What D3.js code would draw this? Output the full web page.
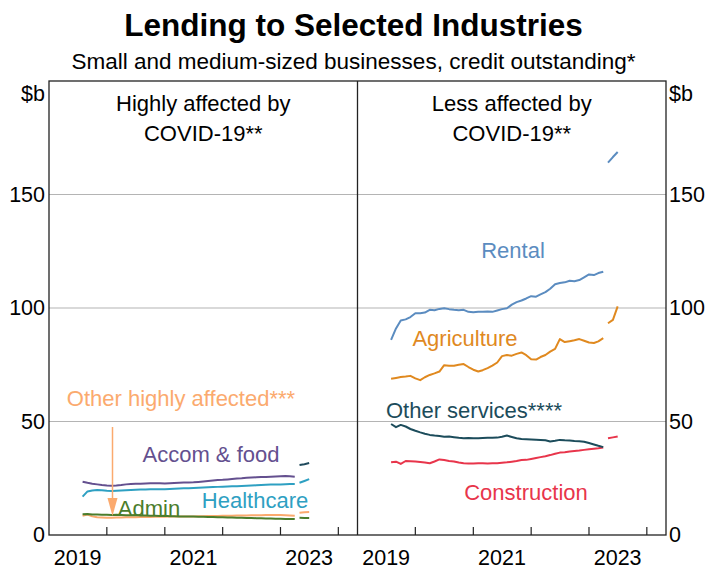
<!DOCTYPE html>
<html>
<head>
<meta charset="utf-8">
<script src="https://cdn.jsdelivr.net/npm/d3@7"></script>
<style>
  html, body { margin: 0; padding: 0; background: #fff; }
  svg text { font-family: "Liberation Sans", Arial, sans-serif; }
</style>
</head>
<body>
<svg id="chart" width="707" height="569"></svg>
<script>
// Monthly observations, Jul 2019 – Mar 2023, then a short series after the break (Apr – Jun 2023)
const months = d3.timeMonths(new Date(2019, 6, 1), new Date(2023, 3, 1));
const breakMonths = d3.timeMonths(new Date(2023, 3, 1), new Date(2023, 6, 1));

// Highly affected industries ($b)
const accomFood = [23.5,23.0,22.6,22.3,22.0,21.8,21.7,21.8,22.0,22.3,22.5,22.6,22.6,22.7,22.8,22.8,22.8,22.7,22.8,22.9,23.0,23.1,23.1,23.2,23.4,23.6,23.8,24.0,24.2,24.3,24.5,24.7,24.9,25.0,25.2,25.3,25.4,25.5,25.6,25.7,25.8,25.9,26.0,25.9,25.7];
const accomFoodBreak = [30.8,31.2,31.7];
const healthcare = [16.9,19.2,19.6,19.8,19.7,19.5,19.4,19.5,19.6,19.7,19.8,19.9,20.0,20.0,20.1,20.1,20.2,20.2,20.3,20.4,20.5,20.6,20.6,20.7,20.8,20.9,21.0,21.1,21.2,21.3,21.4,21.5,21.5,21.6,21.7,21.8,21.9,22.0,22.1,22.2,22.3,22.3,22.4,22.5,22.5];
const healthcareBreak = [23.0,23.8,24.6];
const admin = [9.1,9.2,9.0,9.0,8.9,8.9,8.8,8.9,8.8,8.7,8.7,8.8,8.6,8.6,8.5,8.5,8.4,8.5,8.3,8.3,8.2,8.2,8.1,8.1,8.0,8.0,7.9,7.9,7.8,7.8,7.7,7.7,7.6,7.6,7.5,7.5,7.4,7.4,7.3,7.3,7.2,7.2,7.1,7.1,7.0];
const adminBreak = [7.6,7.5,7.5];
const otherHigh = [8.5,9.0,8.2,7.8,7.7,7.6,7.6,7.7,7.7,7.8,7.8,7.8,7.9,7.9,7.9,8.0,8.0,8.0,8.1,8.1,8.1,8.2,8.2,8.2,8.3,8.3,8.4,8.4,8.4,8.5,8.5,8.5,8.6,8.6,8.6,8.7,8.7,8.7,8.8,8.8,8.8,8.8,8.7,8.6,8.5];
const otherHighBreak = [9.8,10.0,10.1];

// Less affected industries ($b)
const rental = [86.0,91.0,94.5,95.0,96.0,97.7,97.7,98.0,99.2,99.0,99.6,99.9,99.5,99.2,99.0,99.2,98.3,98.1,98.3,98.4,98.5,98.3,98.9,99.5,99.9,101.5,102.6,103.3,104.2,105.2,105.0,106.0,107.0,108.5,110.5,111.0,111.3,112.0,111.8,112.3,113.5,114.8,114.5,115.4,116.0];
const rentalBreak = [164.0,166.5,168.7];
const agriculture = [68.8,69.2,69.6,69.8,70.1,69.0,68.2,69.5,70.5,71.2,72.0,74.8,74.6,74.6,75.0,75.3,74.0,72.8,72.0,72.6,73.5,74.6,76.0,78.8,79.3,79.0,79.8,80.4,79.2,77.4,77.3,78.4,79.3,80.8,82.0,86.3,85.0,85.4,85.8,86.3,85.6,84.8,84.6,85.3,86.7];
const agricultureBreak = [93.3,94.8,100.7];
const otherServices = [48.9,47.5,48.5,47.8,46.7,45.9,45.2,44.6,44.1,43.8,43.6,43.3,43.4,43.1,42.8,42.6,42.7,42.6,42.6,42.7,42.8,42.8,42.9,43.3,43.8,43.2,42.6,42.3,42.2,42.1,42.0,41.9,41.7,41.2,41.5,41.9,41.7,41.6,41.4,41.3,41.1,40.5,39.9,39.3,38.7];
const construction = [32.0,32.3,31.3,32.6,32.5,32.4,32.2,31.9,31.6,32.4,33.3,33.0,32.6,32.4,31.9,31.6,31.5,31.5,31.6,31.6,31.5,31.6,31.6,31.8,32.0,32.3,32.6,33.0,33.1,33.5,33.9,34.3,34.7,35.2,35.8,36.3,36.5,36.8,37.0,37.2,37.5,37.8,38.0,38.2,38.5];
const constructionBreak = [42.6,43.0,43.4];

// Axis ticks and labels
const yTicks = [0, 50, 100, 150];
const yearTicks = [2020, 2021, 2022, 2023, 2024];
const yearLabels = [2019, 2021, 2023];

const svg = d3.select("#chart");
const plotTop = 81, plotBottom = 535, plotLeft = 49, plotRight = 666;
const mid = (plotLeft + plotRight) / 2;
const FONT = 22;
const AXIS_FONT = 21.5;

const y = d3.scaleLinear().domain([0, 200]).range([plotBottom, plotTop]);

// Observation dated at the end of its month
const endOfMonth = d => d3.timeMonth.offset(d, 1);

const panels = [
  {
    x0: plotLeft, x1: mid, title: ["Highly affected by", "COVID-19**"],
    series: [
      { values: otherHigh, brk: otherHighBreak, color: "#fbaa6e", brkColor: "#fbaa6e" },
      { values: admin, brk: adminBreak, color: "#4b7d2c", brkColor: "#4b7d2c" },
      { values: healthcare, brk: healthcareBreak, color: "#2ea0c2", brkColor: "#2ea0c2" },
      { values: accomFood, brk: accomFoodBreak, color: "#64508f", brkColor: "#1f4a5c" }
    ],
    labels: [
      { text: "Other highly affected***", x: 181, y: 406, color: "#fbaa6e" },
      { text: "Accom & food", x: 211, y: 462, color: "#64508f" },
      { text: "Healthcare", x: 255, y: 508, color: "#2ea0c2" },
      { text: "Admin", x: 149, y: 516, color: "#4b7d2c" }
    ]
  },
  {
    x0: mid, x1: plotRight, title: ["Less affected by", "COVID-19**"],
    series: [
      { values: construction, brk: constructionBreak, color: "#e8354b", brkColor: "#e8354b" },
      { values: otherServices, brk: null, color: "#1c4c5b" },
      { values: agriculture, brk: agricultureBreak, color: "#e0891f", brkColor: "#e0891f" },
      { values: rental, brk: rentalBreak, color: "#5b8cc0", brkColor: "#5b8cc0" }
    ],
    labels: [
      { text: "Rental", x: 513, y: 258, color: "#5b8cc0" },
      { text: "Agriculture", x: 465, y: 346, color: "#e0891f" },
      { text: "Other services****", x: 474, y: 418, color: "#1c4c5b" },
      { text: "Construction", x: 526, y: 500, color: "#e8354b" }
    ]
  }
];

// Gridlines across both panels
svg.append("g").selectAll("line").data(yTicks.filter(v => v > 0)).join("line")
  .attr("x1", plotLeft).attr("x2", plotRight)
  .attr("y1", d => y(d)).attr("y2", d => y(d))
  .attr("stroke", "#b4b4b4").attr("stroke-width", 1.2);

panels.forEach(p => {
  const x = d3.scaleTime()
    .domain([new Date(2019, 0, 1), new Date(2024, 4, 1)])
    .range([p.x0, p.x1]);

  // Year ticks on the bottom edge, pointing into the plot
  svg.append("g").selectAll("line").data(yearTicks).join("line")
    .attr("x1", d => x(new Date(d, 0, 1))).attr("x2", d => x(new Date(d, 0, 1)))
    .attr("y1", plotBottom).attr("y2", plotBottom - 8)
    .attr("stroke", "#222").attr("stroke-width", 1.2);

  // Year labels centred on each year
  svg.append("g").selectAll("text").data(yearLabels).join("text")
    .attr("x", d => x(new Date(d, 6, 1)))
    .attr("y", 565)
    .attr("text-anchor", "middle")
    .attr("font-size", AXIS_FONT).attr("fill", "#000")
    .text(d => d);

  const line = d3.line()
    .x(d => x(endOfMonth(d.date)))
    .y(d => y(d.value));

  p.series.forEach(s => {
    svg.append("path")
      .datum(months.map((m, i) => ({ date: m, value: s.values[i] })))
      .attr("d", line)
      .attr("fill", "none").attr("stroke", s.color)
      .attr("stroke-width", 2).attr("stroke-linejoin", "round");
    if (s.brk) {
      svg.append("path")
        .datum(breakMonths.map((m, i) => ({ date: m, value: s.brk[i] })))
        .attr("d", line)
        .attr("fill", "none").attr("stroke", s.brkColor)
        .attr("stroke-width", 2).attr("stroke-linejoin", "round");
    }
  });

  p.labels.forEach(l => {
    svg.append("text")
      .attr("x", l.x).attr("y", l.y)
      .attr("text-anchor", "middle")
      .attr("font-size", FONT).attr("fill", l.color)
      .text(l.text);
  });

  const cx = (p.x0 + p.x1) / 2;
  svg.append("text").attr("x", cx).attr("y", 111)
    .attr("text-anchor", "middle").attr("font-size", FONT).attr("fill", "#000")
    .text(p.title[0]);
  svg.append("text").attr("x", cx).attr("y", 141)
    .attr("text-anchor", "middle").attr("font-size", FONT).attr("fill", "#000")
    .text(p.title[1]);
});

// Pointer from the "Other highly affected" label down to its line
const arrowX = 112.5;
svg.append("line")
  .attr("x1", arrowX).attr("x2", arrowX)
  .attr("y1", 427).attr("y2", 500)
  .attr("stroke", "#fbaa6e").attr("stroke-width", 1.5);
svg.append("path")
  .attr("d", `M${arrowX - 5},498 L${arrowX + 5},498 L${arrowX},516 Z`)
  .attr("fill", "#fbaa6e");

// Frame and panel divider
svg.append("rect")
  .attr("x", plotLeft).attr("y", plotTop)
  .attr("width", plotRight - plotLeft).attr("height", plotBottom - plotTop)
  .attr("fill", "none").attr("stroke", "#222").attr("stroke-width", 1.3);
svg.append("line")
  .attr("x1", mid).attr("x2", mid).attr("y1", plotTop).attr("y2", plotBottom)
  .attr("stroke", "#222").attr("stroke-width", 1.3);

// Y axis labels on both sides
const yAxisLeft = d3.axisLeft(y).tickValues(yTicks).tickSize(0).tickPadding(4);
const yAxisRight = d3.axisRight(y).tickValues(yTicks).tickSize(0).tickPadding(3);
[[yAxisLeft, plotLeft], [yAxisRight, plotRight]].forEach(([ax, xPos]) => {
  const g = svg.append("g").attr("transform", `translate(${xPos},0)`).call(ax);
  g.select(".domain").remove();
  g.selectAll("text")
    .attr("font-size", AXIS_FONT).attr("fill", "#000")
    .attr("font-family", "'Liberation Sans', Arial, sans-serif");
});
svg.append("text").attr("x", 45).attr("y", 101).attr("text-anchor", "end")
  .attr("font-size", AXIS_FONT).text("$b");
svg.append("text").attr("x", 669).attr("y", 101).attr("text-anchor", "start")
  .attr("font-size", AXIS_FONT).text("$b");

// Titles
svg.append("text").attr("x", 353.5).attr("y", 36).attr("text-anchor", "middle")
  .attr("font-size", 31.5).attr("font-weight", "bold").attr("fill", "#000")
  .text("Lending to Selected Industries");
svg.append("text").attr("x", 353.5).attr("y", 69).attr("text-anchor", "middle")
  .attr("font-size", 22.5).attr("fill", "#000")
  .text("Small and medium-sized businesses, credit outstanding*");
</script>
</body>
</html>
